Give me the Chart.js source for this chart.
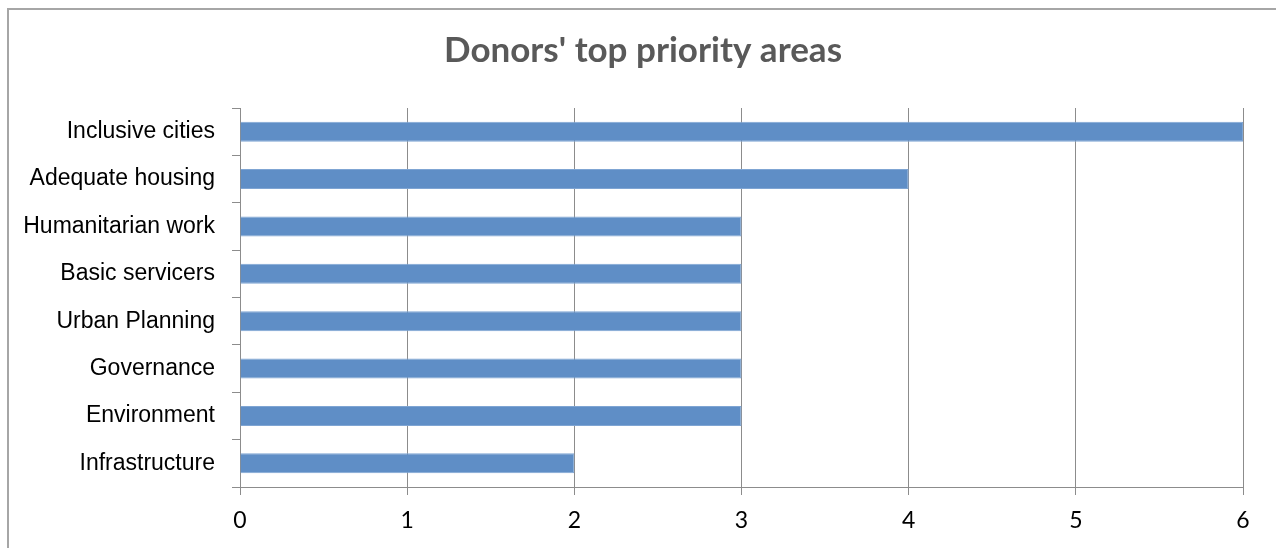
<!DOCTYPE html>
<html>
<head>
<meta charset="utf-8">
<title>Donors' top priority areas</title>
<script src="https://cdn.jsdelivr.net/npm/chart.js@4/dist/chart.umd.min.js"></script>
<style>
    html, body { margin: 0; padding: 0; background: #fff; overflow: hidden; }
    #wrap { position: absolute; left: 0; top: 0; width: 1276px; height: 548px; }
</style>
</head>
<body>
<div id="wrap"><canvas id="priorityChart" width="1276" height="548"></canvas></div>
<script>
const chartTitle = "Donors' top priority areas";
const categories = [
    'Inclusive cities',
    'Adequate housing',
    'Humanitarian work',
    'Basic servicers',
    'Urban Planning',
    'Governance',
    'Environment',
    'Infrastructure'
];
const donorCounts = [6, 4, 3, 3, 3, 3, 3, 2];
const xTicks = [0, 1, 2, 3, 4, 5, 6];

const axisGray = '#8c8c8c';

// Outer frame of the chart object plus a title centred over the frame
// (the built-in title would centre over the padded layout box instead)
const framePlugin = {
    id: 'frame',
    beforeDraw(chart) {
        const ctx = chart.ctx;
        ctx.save();
        ctx.fillStyle = '#fff';
        ctx.fillRect(0, 0, chart.width, chart.height);
        ctx.strokeStyle = '#a6a6a6';
        ctx.lineWidth = 2;
        ctx.strokeRect(8, 9, 1400, 700);

        ctx.fillStyle = '#595959';
        ctx.font = 'bold 35px Lato, "Open Sans", sans-serif';
        ctx.textAlign = 'center';
        ctx.textBaseline = 'middle';
        ctx.fillText(chartTitle, 643, 51);
        ctx.restore();
    }
};

const chart = new Chart(document.getElementById('priorityChart').getContext('2d'), {
    type: 'bar',
    data: {
        labels: categories,
        datasets: [{
            data: donorCounts,
            backgroundColor: '#5f8ec6',
            borderColor: '#7fa5d3',
            borderWidth: 1,
            barPercentage: 0.42,
            categoryPercentage: 1
        }]
    },
    options: {
        indexAxis: 'y',
        responsive: false,
        animation: false,
        layout: { padding: { left: 0, right: 33, top: 108, bottom: 0 } },
        plugins: {
            legend: { display: false },
            tooltip: { enabled: false },
            title: { display: false }
        },
        scales: {
            x: {
                min: 0,
                max: 6,
                afterBuildTicks: scale => { scale.ticks = xTicks.map(v => ({ value: v })); },
                afterFit: scale => { scale.height = 61; },
                grid: { color: axisGray, lineWidth: 1, tickLength: 8, drawOnChartArea: true },
                border: { color: axisGray, width: 1 },
                ticks: {
                    color: '#000',
                    padding: 12,
                    font: { family: 'Lato, "Open Sans", sans-serif', size: 23 }
                }
            },
            y: {
                afterFit: scale => { scale.width = 240; },
                grid: { color: axisGray, lineWidth: 1, tickLength: 8, drawOnChartArea: false, offset: true },
                border: { color: axisGray, width: 1 },
                ticks: {
                    color: '#000',
                    padding: 17,
                    font: { family: '"Liberation Sans", Arial, sans-serif', size: 23 }
                }
            }
        }
    },
    plugins: [framePlugin]
});
</script>
</body>
</html>
